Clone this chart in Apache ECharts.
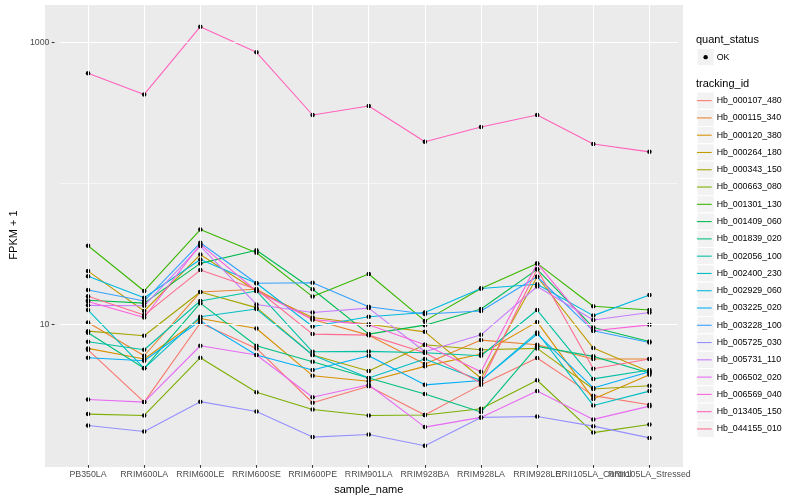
<!DOCTYPE html>
<html>
<head>
<meta charset="utf-8">
<script src="https://cdn.jsdelivr.net/npm/echarts@6/dist/echarts.min.js"></script>
<style>html,body{margin:0;padding:0;background:#fff}#c{width:800px;height:500px}</style>
</head>
<body>
<div id="c"></div>
<script>
// ---------------- data ----------------
const categories = ['PB350LA','RRIM600LA','RRIM600LE','RRIM600SE','RRIM600PE','RRIM901LA','RRIM928BA','RRIM928LA','RRIM928LE','RRII105LA_Control','RRII105LA_Stressed'];
const trackingIds = ['Hb_000107_480','Hb_000115_340','Hb_000120_380','Hb_000264_180','Hb_000343_150','Hb_000663_080','Hb_001301_130','Hb_001409_060','Hb_001839_020','Hb_002056_100','Hb_002400_230','Hb_002929_060','Hb_003225_020','Hb_003228_100','Hb_005725_030','Hb_005731_110','Hb_006502_020','Hb_006569_040','Hb_013405_150','Hb_044155_010'];
const quantStatus = ['OK'];
const yTickValues = [10, 1000];
const yMinorGrid = [100];

const hb_000107_480 = [6.58, 2.80, 10.2, 6.73, 2.77, 3.63, 2.27, 3.71, 5.75, 3.11, 2.68];
const hb_000115_340 = [10.28, 5.97, 16.9, 17.7, 10.8, 8.36, 5.22, 7.71, 7.14, 5.66, 5.66];
const hb_000120_380 = [6.73, 5.66, 10.97, 9.32, 4.31, 3.94, 5.02, 6.14, 10.38, 2.95, 4.38];
const hb_000264_180 = [23.8, 12.4, 31.2, 17.2, 11.15, 10.0, 8.82, 4.13, 21.7, 6.77, 4.60];
const hb_000343_150 = [8.92, 8.27, 16.9, 13.1, 6.04, 4.65, 7.14, 6.58, 6.73, 3.47, 3.66];
const hb_000663_080 = [2.30, 2.25, 5.78, 3.29, 2.48, 2.25, 2.27, 2.51, 4.00, 1.70, 1.94];
const hb_001301_130 = [36.0, 17.2, 46.9, 32.1, 15.7, 22.7, 10.55, 17.9, 27.0, 13.4, 12.6];
const hb_001409_060 = [14.8, 14.1, 27.0, 33.5, 17.7, 8.50, 9.84, 12.8, 24.5, 9.48, 7.54];
const hb_001839_020 = [8.68, 4.86, 14.1, 7.03, 5.41, 4.15, 3.20, 2.38, 6.96, 5.91, 4.51];
const hb_002056_100 = [7.50, 6.58, 14.6, 17.2, 6.37, 6.41, 6.27, 5.97, 12.6, 4.09, 4.73];
const hb_002400_230 = [12.6, 4.86, 11.3, 12.8, 6.04, 4.15, 5.66, 3.98, 8.74, 2.65, 3.35];
const hb_002929_060 = [21.9, 15.4, 28.8, 19.5, 9.63, 11.3, 12.1, 17.9, 19.2, 11.5, 16.1];
const hb_003225_020 = [5.78, 5.50, 10.55, 6.04, 4.73, 5.97, 3.71, 3.98, 8.50, 3.53, 4.60];
const hb_003228_100 = [17.5, 14.6, 37.8, 19.5, 19.7, 13.3, 11.8, 12.4, 21.7, 8.97, 7.42];
const hb_005725_030 = [1.91, 1.73, 2.82, 2.40, 1.58, 1.65, 1.37, 2.18, 2.21, 1.89, 1.56];
const hb_005731_110 = [13.6, 13.5, 35.8, 13.8, 12.1, 13.0, 6.37, 8.40, 18.5, 10.7, 12.1];
const hb_006502_020 = [2.92, 2.80, 7.03, 6.04, 3.03, 3.72, 1.86, 2.18, 3.36, 2.11, 2.62];
const hb_006569_040 = [14.5, 11.15, 36.8, 17.2, 10.8, 9.89, 7.14, 4.60, 27.0, 8.97, 9.89];
const hb_013405_150 = [604, 427, 1291, 850, 305, 353, 197, 251, 305, 190, 167];
const hb_044155_010 = [15.8, 11.6, 24.2, 17.7, 8.50, 8.36, 6.27, 3.83, 24.5, 4.83, 5.66];

const seriesValues = [hb_000107_480, hb_000115_340, hb_000120_380, hb_000264_180, hb_000343_150, hb_000663_080, hb_001301_130, hb_001409_060, hb_001839_020, hb_002056_100, hb_002400_230, hb_002929_060, hb_003225_020, hb_003228_100, hb_005725_030, hb_005731_110, hb_006502_020, hb_006569_040, hb_013405_150, hb_044155_010];

// ---------------- styles ----------------
const palette = ['#F8766D','#EA8331','#D89000','#C09B00','#A3A500','#7CAE00','#39B600','#00BB4E','#00BF7D','#00C1A3','#00BFC4','#00BAE0','#00B0F6','#35A2FF','#9590FF','#C77CFF','#E76BF3','#FA62DB','#FF62BC','#FF6C91'];
const FONT = '"Liberation Sans", Arial, Helvetica, sans-serif';
const GRID = {left: 50.5, right: 122.5, top: 5, bottom: 33};
const PANEL = {x: 45, y: 5, w: 638, h: 462};
const KEY = {x: 697, top: 92, size: 17.28};

const chart = echarts.init(document.getElementById('c'), null, {renderer: 'canvas', width: 800, height: 500});

const graphics = [
  {type: 'rect', z: 0, silent: true, shape: {x: PANEL.x, y: PANEL.y, width: PANEL.w, height: PANEL.h}, style: {fill: '#EBEBEB'}},
  {type: 'text', z: 5, silent: true, style: {text: 'quant_status', x: 696, y: 40, fill: '#000', font: '11px ' + FONT, align: 'left', verticalAlign: 'middle'}},
  {type: 'rect', z: 0, silent: true, shape: {x: KEY.x, y: 48.5, width: KEY.size, height: KEY.size}, style: {fill: '#F2F2F2', stroke: '#fff', lineWidth: 1}},
  {type: 'circle', z: 5, silent: true, shape: {cx: KEY.x + KEY.size / 2, cy: 48.5 + KEY.size / 2, r: 2.2}, style: {fill: '#000'}},
  {type: 'text', z: 5, silent: true, style: {text: quantStatus[0], x: 716.7, y: 48.5 + KEY.size / 2, fill: '#000', font: '8.8px ' + FONT, align: 'left', verticalAlign: 'middle'}},
  {type: 'text', z: 5, silent: true, style: {text: 'tracking_id', x: 696, y: 84.3, fill: '#000', font: '11px ' + FONT, align: 'left', verticalAlign: 'middle'}}
];
trackingIds.forEach((id, i) => {
  graphics.push({type: 'rect', z: 0, silent: true, shape: {x: KEY.x, y: KEY.top + i * KEY.size, width: KEY.size, height: KEY.size}, style: {fill: '#F2F2F2', stroke: '#fff', lineWidth: 1}});
});

const gridLineData = [];
yTickValues.forEach(v => gridLineData.push({yAxis: v, lineStyle: {color: '#FFFFFF', width: 1.07, type: 'solid'}}));
yMinorGrid.forEach(v => gridLineData.push({yAxis: v, lineStyle: {color: '#FFFFFF', width: 0.55, type: 'solid'}}));
categories.forEach(c => gridLineData.push({xAxis: c, lineStyle: {color: '#FFFFFF', width: 1.07, type: 'solid'}}));

const series = [{
  type: 'line', name: '__grid', data: [], z: 1, silent: true, animation: false,
  markLine: {silent: true, animation: false, symbol: ['none', 'none'], label: {show: false}, emphasis: {disabled: true}, data: gridLineData}
}];
// line layer (geom_line)
trackingIds.forEach((id, i) => {
  series.push({
    type: 'line', name: id, data: seriesValues[i], z: 2,
    showSymbol: false, symbol: 'none',
    itemStyle: {color: palette[i]},
    lineStyle: {color: palette[i], width: 1.1},
    emphasis: {disabled: true}, animation: false
  });
});
// point layer (geom_point, shape = quant_status)
trackingIds.forEach((id, i) => {
  series.push({
    type: 'scatter', name: quantStatus[0] + ' ' + id, data: seriesValues[i], z: 3,
    symbol: 'circle', symbolSize: 4.5,
    itemStyle: {color: '#000', opacity: 1, borderWidth: 0},
    emphasis: {disabled: true}, animation: false, silent: true
  });
});

chart.setOption({
  animation: false,
  backgroundColor: '#FFFFFF',
  textStyle: {fontFamily: FONT},
  grid: GRID,
  graphic: graphics,
  legend: {
    orient: 'vertical', left: KEY.x, top: KEY.top, padding: 0,
    itemWidth: 14.7, itemHeight: 17, itemGap: 0, selectedMode: false,
    textStyle: {fontSize: 8.8, lineHeight: KEY.size, color: '#000', fontFamily: FONT},
    data: trackingIds.map((id, i) => ({name: id, icon: 'path://M0,0L15,0L15,1.1L0,1.1Z', itemStyle: {color: palette[i], borderWidth: 0}}))
  },
  xAxis: {
    type: 'category', data: categories, boundaryGap: true,
    axisLine: {show: false},
    axisTick: {show: true, alignWithLabel: true, interval: 0, length: 2.75, lineStyle: {color: '#333333', width: 1.07}},
    axisLabel: {interval: 0, margin: 5, color: '#4D4D4D', fontSize: 8.8, fontFamily: FONT, hideOverlap: false},
    splitLine: {show: false},
    name: 'sample_name', nameLocation: 'middle', nameGap: 15,
    nameTextStyle: {fontSize: 11, color: '#000', fontFamily: FONT}
  },
  yAxis: {
    type: 'log', logBase: 10, min: 1, max: 1840, offset: 5.5,
    axisLine: {show: false},
    axisTick: {show: true, length: 2.75, customValues: yTickValues, lineStyle: {color: '#333333', width: 1.07}},
    axisLabel: {customValues: yTickValues, margin: 5, color: '#4D4D4D', fontSize: 8.8, fontFamily: FONT, formatter: v => String(Math.round(v))},
    splitLine: {show: false}, minorTick: {show: false}, minorSplitLine: {show: false},
    name: 'FPKM + 1', nameLocation: 'middle', nameGap: 28,
    nameTextStyle: {fontSize: 11, color: '#000', fontFamily: FONT}
  },
  series: series
});
</script>
</body>
</html>
